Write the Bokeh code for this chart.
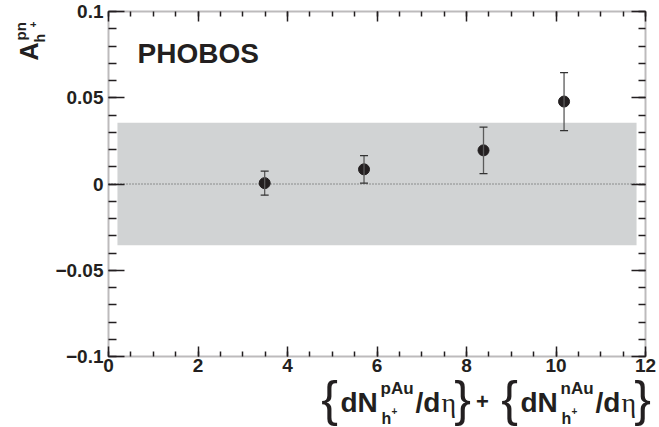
from math import pi
from bokeh.plotting import figure
from bokeh.models import (FixedTicker, LinearAxis, Whisker, TeeHead, ColumnDataSource,
                          BoxAnnotation, Label, Range1d)
from bokeh.embed import file_html
from bokeh.resources import INLINE

# ---------------- data ----------------
mult_x = [3.49, 5.71, 8.38, 10.18]
asym_y = [0.0005, 0.0085, 0.0195, 0.0478]
asym_err = [0.0070, 0.0080, 0.0135, 0.0168]

band_left = [0.2]
band_right = [11.8]
band_bottom = [-0.0355]
band_top = [0.0355]

x_lim = [0, 12]
y_lim = [-0.1, 0.1]
x_ticks = [0, 2, 4, 6, 8, 10, 12]
x_minor = [0, 0.5, 1, 1.5, 2, 2.5, 3, 3.5, 4, 4.5, 5, 5.5, 6, 6.5, 7, 7.5, 8, 8.5,
           9, 9.5, 10, 10.5, 11, 11.5, 12]
y_ticks = [-0.1, -0.05, 0, 0.05, 0.1]
y_tick_labels = ["\u22120.1", "\u22120.05", "0", "0.05", "0.1"]
y_minor = [-0.1, -0.09, -0.08, -0.07, -0.06, -0.05, -0.04, -0.03, -0.02, -0.01, 0,
           0.01, 0.02, 0.03, 0.04, 0.05, 0.06, 0.07, 0.08, 0.09, 0.1]

INK = "#231f20"
FONT = "Liberation Sans"

# ---------------- layout geometry (canvas pixels) ----------------
W, H = 659, 427
BOX_L, BOX_R, BOX_T, BOX_B = 108, 645, 11, 356
sx_u = (BOX_R - BOX_L) / (x_lim[1] - x_lim[0])
sy_u = (BOX_B - BOX_T) / (y_lim[1] - y_lim[0])
xr = Range1d(x_lim[0] - BOX_L / sx_u, x_lim[1] + (W - BOX_R) / sx_u)
yr = Range1d(y_lim[0] - (H - BOX_B) / sy_u, y_lim[1] + BOX_T / sy_u)

def dx(ix):
    return x_lim[0] + (ix - BOX_L) / sx_u

def dy(iy):
    return y_lim[1] - (iy - BOX_T) / sy_u

p = figure(width=W, height=H, output_backend="svg", toolbar_location=None,
           x_range=xr, y_range=yr,
           min_border_left=0, min_border_right=0, min_border_top=0, min_border_bottom=0)
p.grid.visible = False
p.outline_line_color = None
p.background_fill_color = "white"
p.border_fill_color = "white"

# systematic band
band_src = ColumnDataSource(dict(left=band_left, right=band_right, bottom=band_bottom, top=band_top))
p.quad(left="left", right="right", bottom="bottom", top="top", source=band_src,
       fill_color="#d1d3d4", line_color=None)

# zero line
p.line(x=x_lim, y=[0, 0], line_color="#444444", line_width=1, line_dash="1 2")

# data with error bars
src = ColumnDataSource(dict(x=mult_x, y=asym_y,
                            upper=[a + e for a, e in zip(asym_y, asym_err)],
                            lower=[a - e for a, e in zip(asym_y, asym_err)]))
p.scatter("x", "y", source=src, size=11, color=INK)
p.add_layout(Whisker(source=src, base="x", upper="upper", lower="lower", dimension="height",
                     line_color="#5a5a5a", line_width=1.3, level="annotation",
                     upper_head=TeeHead(size=8, line_color="#333333", line_width=1.3),
                     lower_head=TeeHead(size=8, line_color="#333333", line_width=1.3)))

# frame box
p.add_layout(BoxAnnotation(left=x_lim[0], right=x_lim[1], bottom=y_lim[0], top=y_lim[1],
                           fill_color=None, line_color=INK, line_width=2))

# axes (fixed inside the canvas-wide frame)
def style_axis(ax, tick_major, tick_minor, standoff=5):
    ax.major_tick_in = tick_major
    ax.major_tick_out = 0
    ax.minor_tick_in = tick_minor
    ax.minor_tick_out = 0
    ax.major_tick_line_color = INK
    ax.minor_tick_line_color = INK
    ax.major_tick_line_width = 1.5
    ax.minor_tick_line_width = 1.5
    ax.axis_line_color = None
    ax.major_label_text_font = FONT
    ax.major_label_text_font_style = "bold"
    ax.major_label_text_font_size = "19px"
    ax.major_label_text_color = INK
    ax.major_label_standoff = standoff

bx = p.xaxis[0]
bx.ticker = FixedTicker(ticks=x_ticks, minor_ticks=x_minor)
bx.fixed_location = y_lim[0]
style_axis(bx, 10, 5, 2)

ly = p.yaxis[0]
ly.ticker = FixedTicker(ticks=y_ticks, minor_ticks=y_minor)
ly.major_label_overrides = {t: l for t, l in zip(y_ticks, y_tick_labels)}
ly.fixed_location = x_lim[0]
style_axis(ly, 16, 8, 5)

tx = LinearAxis(ticker=FixedTicker(ticks=x_ticks, minor_ticks=x_minor), fixed_location=y_lim[1])
style_axis(tx, 10, 5)
tx.major_label_overrides = {t: "" for t in x_ticks}
p.add_layout(tx, "above")
ry = LinearAxis(ticker=FixedTicker(ticks=y_ticks, minor_ticks=y_minor), fixed_location=x_lim[1])
style_axis(ry, 14, 7)
ry.major_label_overrides = {t: "" for t in y_ticks}
p.add_layout(ry, "right")

# text helper: canvas pixel position -> data position
def lab(text, ix, iy, size, bold=True, font=FONT, align="left", baseline="alphabetic", angle=0):
    p.add_layout(Label(x=dx(ix), y=dy(iy), text=text,
                       text_font=font, text_font_size=f"{size}px",
                       text_font_style="bold" if bold else "normal",
                       text_color=INK, text_align=align, text_baseline=baseline,
                       angle=angle, angle_units="rad"))

lab("PHOBOS", 137, 53, 28)

# y-axis title  A^{pn}_{h+}  (rotated, reading upward)
lab("A", 28, 60, 25, angle=pi / 2)
lab("pn", 20, 40, 15, angle=pi / 2)
lab("h", 39, 42, 14, angle=pi / 2)
lab("+", 32, 27, 10, angle=pi / 2)

# x-axis title  {dN^{pAu}_{h+}/d eta} + {dN^{nAu}_{h+}/d eta}
BR = "Liberation Sans Narrow, Liberation Sans"
for x0, sup in ((340, "pAu"), (520, "nAu")):
    lab("{", x0 - 11, 398, 50, bold=False, font=BR, align="center", baseline="middle")
    lab("dN", x0, 402, 28)
    lab(sup, x0 + 40, 388, 17)
    lab("h", x0 + 41, 418, 16)
    lab("+", x0 + 51, 410, 10)
    lab("/d", x0 + 75, 402, 28)
    lab("\u03b7", x0 + 101, 402, 28, bold=False, font="Liberation Serif")
    lab("}", x0 + 122, 398, 50, bold=False, font=BR, align="center", baseline="middle")
lab("+", 482, 401, 22, align="center", baseline="middle")

open("out.html", "w").write(file_html(p, INLINE))
